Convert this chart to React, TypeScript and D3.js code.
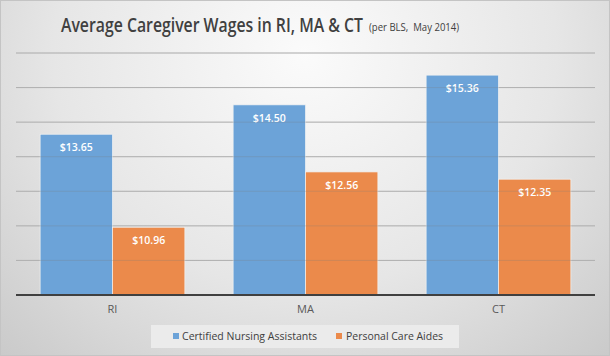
import React, { useLayoutEffect, useRef, useState } from "react";
import * as d3 from "d3";

const categories = ["RI", "MA", "CT"];
const seriesNames = ["Certified Nursing Assistants", "Personal Care Aides"];
const cnaValues = [13.65, 14.5, 15.36];
const pcaValues = [10.96, 12.56, 12.35];
const yTicks = [9, 10, 11, 12, 13, 14, 15, 16];
const colors = ["#6ca3d8", "#eb8a4b"];
const titleText = "Average Caregiver Wages in RI, MA & CT";
const subtitleText = "(per BLS,  May 2014)";

const W = 610;
const H = 356;

export default function App() {
  const titleRef = useRef<SVGTextElement>(null);
  const subRef = useRef<SVGTextElement>(null);
  const [scales, setScales] = useState<[number, number]>([0.8, 0.85]);

  useLayoutEffect(() => {
    const w1 = titleRef.current ? titleRef.current.getComputedTextLength() : 0;
    const w2 = subRef.current ? subRef.current.getComputedTextLength() : 0;
    if (w1 > 0 && w2 > 0) setScales([302 / w1, 90 / w2]);
  }, []);

  const x0 = d3.scaleBand<string>().domain(categories).range([16, 595]).paddingInner(0.25).paddingOuter(0.125);
  const x1 = d3.scaleBand<string>().domain(seriesNames).range([0, x0.bandwidth()]).padding(0);
  const y = d3.scaleLinear().domain([9, 16]).range([295, 53]);
  const series = [cnaValues, pcaValues];
  const font = "'Open Sans', 'Noto Sans', sans-serif";

  return (
    <svg width={W} height={H} style={{ position: "absolute", left: 0, top: 0 }} fontFamily={font}>
      <defs>
        <radialGradient id="bg" cx="0.5" cy="0.15" r="0.75" gradientTransform="translate(0.5 0.15) scale(1 1.6) translate(-0.5 -0.15)">
          <stop offset="0" stopColor="#fbfbfb" />
          <stop offset="0.55" stopColor="#e6e6e6" />
          <stop offset="1" stopColor="#c8c8c8" />
        </radialGradient>
      </defs>
      <rect x={0} y={0} width={W} height={H} fill="url(#bg)" />
      <rect x={0.5} y={0.5} width={W - 1} height={H - 1} fill="none" stroke="#c4c4c4" />

      <text ref={titleRef} x={0} y={0} transform={`translate(61,32) scale(${scales[0]},1)`} fontSize={20} fontWeight={600} fill="#404040">
        {titleText}
      </text>
      <text ref={subRef} x={0} y={0} transform={`translate(369,31) scale(${scales[1]},1)`} fontSize={11} fill="#404040" xmlSpace="preserve">
        {subtitleText}
      </text>

      {yTicks.slice(1).map((t) => (
        <line key={t} x1={16} x2={595} y1={y(t)} y2={y(t)} stroke="#c2c2c2" strokeWidth={1} />
      ))}

      {categories.map((c, i) => (
        <g key={c} transform={`translate(${x0(c)},0)`}>
          {seriesNames.map((s, j) => {
            const v = series[j][i];
            const bx = x1(s)!;
            const bw = x1.bandwidth();
            return (
              <g key={s}>
                <rect x={bx} y={y(v)} width={bw} height={y(9) - y(v)} fill={colors[j]} stroke="#f2f2f2" strokeWidth={0.7} />
                <text x={bx + bw / 2} y={y(v) + 17} textAnchor="middle" fontSize={11.5} fontWeight={600} fill="#ffffff" textLength={33} lengthAdjust="spacingAndGlyphs">
                  ${v.toFixed(2)}
                </text>
              </g>
            );
          })}
        </g>
      ))}

      {yTicks.slice(1).map((t) => (
        <line key={"o" + t} x1={16} x2={595} y1={y(t)} y2={y(t)} stroke="#7a7a7a" strokeOpacity={0.25} strokeWidth={1} />
      ))}

      <line x1={16} x2={595} y1={y(9)} y2={y(9)} stroke="#404040" strokeWidth={2} />

      {categories.map((c) => (
        <text key={c} x={x0(c)! + x0.bandwidth() / 2} y={313} textAnchor="middle" fontSize={11} fill="#595959">
          {c}
        </text>
      ))}

      <rect x={151} y={325} width={308} height={23} fill="#ebebeb" />
      <rect x={173} y={333} width={6} height={6} fill={colors[0]} />
      <text x={182} y={340} fontSize={11} fill="#404040" textLength={135} lengthAdjust="spacingAndGlyphs">
        {seriesNames[0]}
      </text>
      <rect x={336} y={333} width={6} height={6} fill={colors[1]} />
      <text x={346} y={340} fontSize={11} fill="#404040" textLength={97} lengthAdjust="spacingAndGlyphs">
        {seriesNames[1]}
      </text>
    </svg>
  );
}
